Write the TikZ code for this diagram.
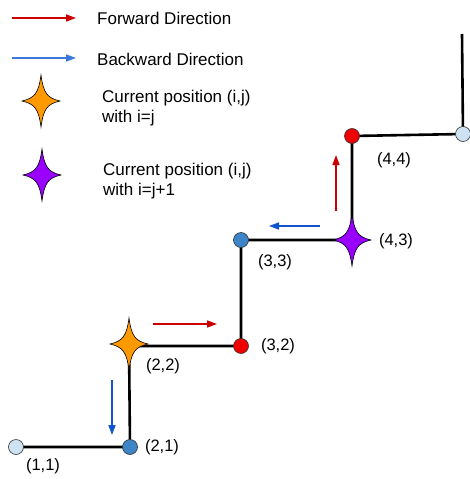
\documentclass[tikz,border=0pt]{standalone}
\usepackage{fontspec}
\setmainfont{Liberation Sans}
\usetikzlibrary{arrows.meta}
\definecolor{fwdred}{HTML}{CC0000}
\definecolor{bwdblue}{HTML}{3C78D8}
\definecolor{bwddark}{HTML}{1155CC}
\definecolor{lightdot}{HTML}{CFE2F3}
\definecolor{bluedot}{HTML}{3D85C6}
\definecolor{reddot}{HTML}{EE0000}
\definecolor{starorange}{HTML}{FF9900}
\definecolor{starpurple}{HTML}{9900FF}
\tikzset{
  path/.style={line width=2.6pt, black},
  dot/.style={circle, draw=black!80, line width=0.6pt, minimum size=15pt, inner sep=0pt},
  lbl/.style={font=\fontsize{16.5}{20}\selectfont, inner sep=0pt},
  legtext/.style={font=\fontsize{17}{20.5}\selectfont, inner sep=0pt, anchor=west, align=left},
  fwd/.style={fwdred, line width=1.6pt, -{Triangle[length=10pt,width=7pt]}},
  bwd/.style={bwdblue, line width=1.6pt, -{Triangle[length=10pt,width=7pt]}},
  bwdd/.style={bwddark, line width=1.6pt, -{Triangle[length=10pt,width=7pt]}},
  pics/fourstar/.style={code={
    \filldraw[fill=#1, draw=black, line width=0.6pt]
      (0,-26) .. controls (2.5,-8) and (6,-3) .. (19,0)
      .. controls (6,3) and (2.5,8) .. (0,26)
      .. controls (-2.5,8) and (-6,3) .. (-19,0)
      .. controls (-6,-3) and (-2.5,-8) .. cycle;
  }}
}
\begin{document}
\begin{tikzpicture}[x=1pt,y=-1pt]
\useasboundingbox (0,0) rectangle (470,479);
% legend
\coordinate (lf1) at (12,18);
\coordinate (lf2) at (76,18);
\coordinate (lb1) at (12,58);
\coordinate (lb2) at (76,58);
\draw[fwd] (lf1) -- (lf2);
\draw[bwd] (lb1) -- (lb2);
\node[legtext] (tf) at (97,18) {Forward Direction};
\node[legtext] (tb) at (97,59) {Backward Direction};
\coordinate (ls1) at (41,101);
\coordinate (ls2) at (42,175);
\pic at (ls1) {fourstar=starorange};
\pic at (ls2) {fourstar=starpurple};
\node[legtext] (t1) at (102,108) {Current position (i,j)\\with i=j};
\node[legtext] (t2) at (103,181) {Current position (i,j)\\with i=j+1};
% staircase points
\coordinate (c11) at (16,447);
\coordinate (c21) at (130,447);
\coordinate (s22) at (129,344);
\coordinate (c32) at (241,346);
\coordinate (c33) at (241,240);
\coordinate (s43) at (352,240);
\coordinate (c44) at (352,136);
\coordinate (c55) at (463,134);
\coordinate (ctop) at (462,34);
\draw[path] (c11) -- (c21) -- (s22) |- (c32) -- (c33) -- (s43) -- (c44) -- (c55) -- (ctop);
% dots
\node[dot, fill=lightdot] (n11) at (c11) {};
\node[dot, fill=bluedot] (n21) at (c21) {};
\node[dot, fill=reddot] (n32) at (c32) {};
\node[dot, fill=bluedot] (n33) at (c33) {};
\node[dot, fill=reddot] (n44) at (c44) {};
\node[dot, fill=lightdot] (n55) at (c55) {};
\pic at (s22) {fourstar=starorange};
\pic at (s43) {fourstar=starpurple};
% labels
\node[lbl] (l11) at (43,466) {(1,1)};
\node[lbl] (l21) at (162,447) {(2,1)};
\node[lbl] (l22) at (163,366) {(2,2)};
\node[lbl] (l32) at (278,346) {(3,2)};
\node[lbl] (l33) at (275,262) {(3,3)};
\node[lbl] (l43) at (396,241) {(4,3)};
\node[lbl] (l44) at (394,160) {(4,4)};
% direction arrows
\coordinate (a1s) at (112,380);
\coordinate (a1e) at (112,435);
\draw[bwdd] (a1s) -- (a1e);
\coordinate (a2s) at (153,324);
\coordinate (a2e) at (217,324);
\draw[fwd] (a2s) -- (a2e);
\coordinate (a3s) at (320,226);
\coordinate (a3e) at (269,226);
\draw[bwdd] (a3s) -- (a3e);
\coordinate (a4s) at (336,211);
\coordinate (a4e) at (336,155);
\draw[fwd] (a4s) -- (a4e);
\end{tikzpicture}
\end{document}
